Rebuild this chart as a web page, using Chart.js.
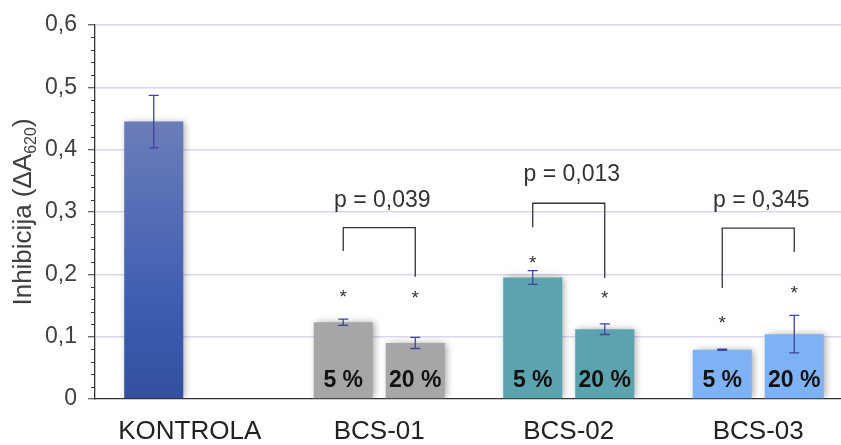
<!DOCTYPE html>
<html>
<head>
<meta charset="utf-8">
<script src="https://cdn.jsdelivr.net/npm/chart.js"></script>
<style>
    html, body { margin: 0; padding: 0; background: #fff; overflow: hidden; }
    #wrap { width: 858px; height: 445px; position: relative; }
</style>
</head>
<body>
<div id="wrap"><canvas id="inhibChart"></canvas></div>
<script>
// data
const categories = ['KONTROLA', 'BCS-01', 'BCS-02', 'BCS-03'];
const values5 = [0.445, 0.123, 0.195, 0.079];
const values20 = [null, 0.090, 0.112, 0.104];
const err5 = [0.042, 0.005, 0.011, 0.001];
const err20 = [null, 0.009, 0.0085, 0.030];
const star5 = [null, 0.172, 0.226, 0.130];
const star20 = [null, 0.170, 0.170, 0.178];
const seriesLabels = ['5 %', '20 %'];
const pLabels = [null, 'p = 0,039', 'p = 0,013', 'p = 0,345'];
const pLevels = [null, 0.319, 0.360, 0.319];
const bracketTop = [null, 0.275, 0.314, 0.274];
const bracketLeft = [null, 0.2375, 0.2756, 0.178];
const bracketRight = [null, 0.196, 0.194, 0.236];
const groupColors = ['#3a5ab0', '#a6a6a6', '#5ba3ae', '#7fb2f5'];

const FONT = '"Liberation Sans", Arial, sans-serif';

function barColor(context) {
    const i = context.dataIndex;
    if (i !== 0) return groupColors[i];
    const chart = context.chart;
    if (!chart.chartArea) return groupColors[0];
    const y = chart.scales.y;
    const g = chart.ctx.createLinearGradient(0, y.getPixelForValue(values5[0]), 0, y.getPixelForValue(0));
    g.addColorStop(0, '#6b7db9');
    g.addColorStop(0.7, '#3b5bb1');
    g.addColorStop(1, '#33509e');
    return g;
}

const shadowPlugin = {
    id: 'barShadow',
    beforeDatasetDraw(chart) {
        const c = chart.ctx;
        c.save();
        c.shadowColor = 'rgba(0,0,0,0.35)';
        c.shadowBlur = 7;
        c.shadowOffsetX = 2;
    },
    afterDatasetDraw(chart) {
        chart.ctx.restore();
    }
};

const extrasPlugin = {
    id: 'extras',
    afterDraw(chart) {
        const c = chart.ctx;
        const y = chart.scales.y;
        const area = chart.chartArea;
        const metas = [chart.getDatasetMeta(0), chart.getDatasetMeta(1)];
        const vals = [values5, values20];
        const errs = [err5, err20];
        const stars = [star5, star20];

        c.save();
        // minor ticks on y axis
        c.strokeStyle = '#333';
        c.lineWidth = 1;
        for (let k = 1; k < 30; k++) {
            if (k % 5 === 0) continue;
            const py = Math.round(y.getPixelForValue(k * 0.02)) + 0.5;
            c.beginPath();
            c.moveTo(area.left - 4, py);
            c.lineTo(area.left, py);
            c.stroke();
        }

        // error bars
        c.strokeStyle = '#3f449e';
        c.lineWidth = 1.3;
        for (let d = 0; d < 2; d++) {
            for (let i = 0; i < categories.length; i++) {
                if (vals[d][i] === null) continue;
                const x = metas[d].data[i].x;
                const hi = y.getPixelForValue(vals[d][i] + errs[d][i]);
                const lo = y.getPixelForValue(vals[d][i] - errs[d][i]);
                c.beginPath();
                c.moveTo(x, hi); c.lineTo(x, lo);
                c.moveTo(x - 5, hi); c.lineTo(x + 5, hi);
                c.moveTo(x - 5, lo); c.lineTo(x + 5, lo);
                c.stroke();
            }
        }

        // labels inside bars and asterisks
        c.textAlign = 'center';
        for (let d = 0; d < 2; d++) {
            for (let i = 1; i < categories.length; i++) {
                const x = metas[d].data[i].x;
                c.fillStyle = '#111';
                c.font = 'bold 23px ' + FONT;
                c.textBaseline = 'middle';
                c.fillText(seriesLabels[d], x, y.getPixelForValue(0) - 18);
                c.fillStyle = '#333';
                c.font = '19px ' + FONT;
                c.textBaseline = 'alphabetic';
                c.fillText('*', x, y.getPixelForValue(stars[d][i]) + 11);
            }
        }

        // brackets and p values
        c.strokeStyle = '#333';
        c.lineWidth = 1.3;
        c.fillStyle = '#333';
        c.font = '23px ' + FONT;
        c.textBaseline = 'middle';
        for (let i = 1; i < categories.length; i++) {
            const x0 = metas[0].data[i].x;
            const x1 = metas[1].data[i].x;
            const yt = y.getPixelForValue(bracketTop[i]);
            c.beginPath();
            c.moveTo(x0, y.getPixelForValue(bracketLeft[i]));
            c.lineTo(x0, yt);
            c.lineTo(x1, yt);
            c.lineTo(x1, y.getPixelForValue(bracketRight[i]));
            c.stroke();
            c.fillText(pLabels[i], (x0 + x1) / 2 + 3, y.getPixelForValue(pLevels[i]));
        }

        // y axis title with subscript
        const cy = (area.top + area.bottom) / 2;
        c.translate(31, cy);
        c.rotate(-Math.PI / 2);
        c.fillStyle = '#404040';
        c.textAlign = 'left';
        c.textBaseline = 'alphabetic';
        const mainFont = '26px ' + FONT;
        const subFont = '16px ' + FONT;
        c.font = mainFont;
        const p1 = 'Inhibicija (ΔA';
        const w1 = c.measureText(p1).width;
        const w3 = c.measureText(')').width;
        c.font = subFont;
        const w2 = c.measureText('620').width;
        let x = -(w1 + w2 + w3) / 2;
        c.font = mainFont;
        c.fillText(p1, x, 0);
        x += w1;
        c.font = subFont;
        c.fillText('620', x, 5);
        x += w2;
        c.font = mainFont;
        c.fillText(')', x, 0);
        c.restore();
    }
};

const ctx = document.getElementById('inhibChart');

new Chart(ctx, {
    type: 'bar',
    data: {
        labels: categories,
        datasets: [
            {
                label: seriesLabels[0],
                data: values5,
                backgroundColor: barColor,
                categoryPercentage: 0.76,
                barPercentage: 0.82
            },
            {
                label: seriesLabels[1],
                data: values20,
                backgroundColor: barColor,
                categoryPercentage: 0.76,
                barPercentage: 0.82
            }
        ]
    },
    options: {
        responsive: true,
        maintainAspectRatio: false,
        animation: false,
        layout: {
            padding: { left: 0, right: 5, top: 25, bottom: 0 }
        },
        scales: {
            x: {
                grid: { display: false, drawTicks: false },
                border: { display: true, color: '#333', width: 1.3 },
                ticks: {
                    color: '#222',
                    padding: 17,
                    font: { family: FONT, size: 26 }
                },
                afterFit(scale) { scale.height = 46; }
            },
            y: {
                min: 0,
                max: 0.6,
                ticks: {
                    stepSize: 0.1,
                    padding: 11,
                    color: '#404040',
                    font: { family: FONT, size: 23 },
                    callback: function(v) {
                        return v === 0 ? '0' : Number(v).toFixed(1).replace('.', ',');
                    }
                },
                grid: {
                    color: (c) => c.tick && c.tick.value === 0 ? 'rgba(0,0,0,0)' : '#d8d8ee',
                    lineWidth: 1.5,
                    tickColor: '#333',
                    tickLength: 7,
                    tickWidth: 1
                },
                border: { display: true, color: '#333', width: 1.3 },
                afterFit(scale) { scale.width = 95; }
            }
        },
        plugins: {
            legend: { display: false },
            tooltip: { enabled: false }
        }
    },
    plugins: [shadowPlugin, extrasPlugin]
});
</script>
</body>
</html>
